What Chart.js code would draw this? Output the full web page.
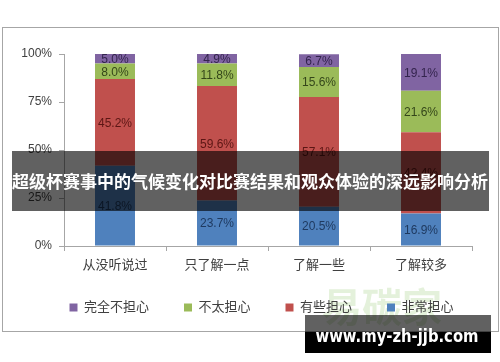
<!DOCTYPE html>
<html>
<head>
<meta charset="utf-8">
<script src="https://cdn.jsdelivr.net/npm/chart.js@4.4.1/dist/chart.umd.min.js"></script>
<style>
  html, body { margin: 0; padding: 0; background: #fff; }
  #wrap { width: 500px; height: 362px; position: relative; }
</style>
</head>
<body>
<div id="wrap"><canvas id="myChart" width="500" height="362"></canvas></div>
<script>
// categories and series (percent)
const categories = ['从没听说过', '只了解一点', '了解一些', '了解较多'];
const veryWorried = [41.8, 23.7, 20.5, 16.9];   // 非常担心
const someWorried = [45.2, 59.6, 57.1, 42.4];   // 有些担心
const notVery = [8.0, 11.8, 15.6, 21.6];        // 不太担心
const notAtAll = [5.0, 4.9, 6.7, 19.1];         // 完全不担心
const yTicks = [0, 25, 50, 75, 100];

const bannerText = '超级杯赛事中的气候变化对比赛结果和观众体验的深远影响分析';
const siteText = 'www.my-zh-jjb.com';

const FONT = "'Liberation Sans', 'Noto Sans CJK SC', sans-serif";
const CJK = "'Noto Sans CJK SC', sans-serif";

// labels inside the bar segments
const segmentLabels = {
    id: 'segmentLabels',
    afterDatasetsDraw(chart) {
        const ctx = chart.ctx;
        ctx.save();
        ctx.font = '12px ' + FONT;
        ctx.textAlign = 'center';
        ctx.textBaseline = 'middle';
        chart.data.datasets.forEach((ds, di) => {
            const meta = chart.getDatasetMeta(di);
            meta.data.forEach((bar, i) => {
                const v = ds.data[i];
                ctx.fillStyle = ds.labelColor;
                ctx.fillText(v.toFixed(1) + '%', bar.x, (bar.y + bar.base) / 2 + 1);
            });
        });
        ctx.restore();
    }
};

// frame, banner and watermark
const decor = {
    id: 'decor',
    afterLayout(chart) {
        // legend sits a little right of centre and closer to the axis in the original
        chart.legend.left += 15;
        chart.legend.top -= 8;
        chart.legend.bottom -= 8;
    },
    beforeDraw(chart) {
        const ctx = chart.ctx;
        ctx.save();
        ctx.fillStyle = '#fff';
        ctx.fillRect(0, 0, chart.width, chart.height);
        ctx.strokeStyle = '#a6a6a6';
        ctx.lineWidth = 1;
        ctx.strokeRect(2.5, 27.5, 496, 304);
        // faint logo watermark
        ctx.fillStyle = 'rgba(130, 190, 90, 0.22)';
        ctx.font = 'bold 40px ' + CJK;
        ctx.textBaseline = 'alphabetic';
        ctx.fillText('易碳家', 322, 322);
        ctx.restore();
    },
    afterDraw(chart) {
        const ctx = chart.ctx;
        ctx.save();
        // title banner
        ctx.fillStyle = 'rgba(0, 0, 0, 0.62)';
        ctx.fillRect(12, 151, 477, 60);
        ctx.fillStyle = '#fff';
        ctx.font = 'bold 17px ' + CJK;
        ctx.textAlign = 'center';
        ctx.textBaseline = 'middle';
        ctx.fillText(bannerText, 250, 182);
        // site box
        ctx.fillStyle = 'rgba(0, 0, 0, 0.62)';
        ctx.fillRect(305, 315, 186, 17);
        ctx.fillStyle = '#000';
        ctx.fillRect(305, 332, 186, 21);
        ctx.fillStyle = '#fff';
        ctx.font = "bold 17px 'DejaVu Sans', sans-serif";
        const w = ctx.measureText(siteText).width;
        ctx.save();
        ctx.translate(397, 338);
        ctx.scale(163 / w, 1);
        ctx.fillText(siteText, 0, 0);
        ctx.restore();
        ctx.restore();
    }
};

const ctx = document.getElementById('myChart').getContext('2d');
const myChart = new Chart(ctx, {
    type: 'bar',
    data: {
        labels: categories,
        datasets: [
            { label: '非常担心', data: veryWorried, backgroundColor: '#4f81bd', labelColor: '#1f3a60' },
            { label: '有些担心', data: someWorried, backgroundColor: '#c0504d', labelColor: '#5c1614' },
            { label: '不太担心', data: notVery, backgroundColor: '#9bbb59', labelColor: '#34461a' },
            { label: '完全不担心', data: notAtAll, backgroundColor: '#8064a2', labelColor: '#33244d' }
        ]
    },
    options: {
        responsive: false,
        animation: false,
        layout: { padding: { left: 14, right: 6, top: 54, bottom: 30 } },
        datasets: {
            bar: { categoryPercentage: 1, barPercentage: 0.392, borderWidth: 0 }
        },
        plugins: {
            legend: {
                position: 'bottom',
                reverse: true,
                labels: {
                    boxWidth: 8,
                    boxHeight: 8,
                    padding: 35,
                    color: '#404040',
                    font: { size: 13, family: FONT }
                }
            },
            tooltip: { enabled: false }
        },
        scales: {
            x: {
                stacked: true,
                grid: { display: true, drawOnChartArea: false, offset: true, tickLength: 5, color: '#a6a6a6' },
                border: { display: true, color: '#a6a6a6' },
                ticks: { color: '#404040', padding: 7, font: { size: 13, family: FONT } },
                afterFit(scale) { scale.height = 28; }
            },
            y: {
                stacked: true,
                min: 0,
                max: 100,
                afterBuildTicks(scale) { scale.ticks = yTicks.map(v => ({ value: v })); },
                grid: { display: true, drawOnChartArea: false, tickLength: 5, color: '#a6a6a6' },
                border: { display: true, color: '#a6a6a6' },
                ticks: {
                    color: '#404040',
                    padding: 7,
                    font: { size: 12, family: FONT },
                    callback: v => v + '%'
                },
                afterFit(scale) { scale.width = 50; }
            },
            yr: {
                position: 'right',
                display: true,
                grid: { display: false },
                border: { display: false },
                ticks: { display: false },
                afterFit(scale) { scale.width = 22; }
            }
        }
    },
    plugins: [decor, segmentLabels]
});
</script>
</body>
</html>
